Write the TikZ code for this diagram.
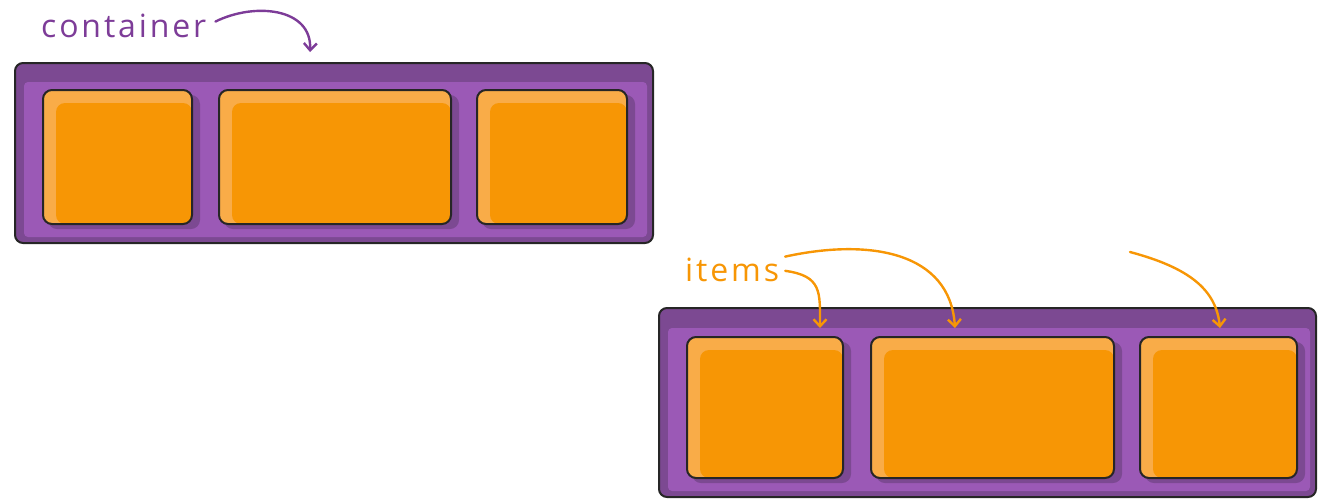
\documentclass[tikz,border=0pt]{standalone}
\usepackage{fontspec}
\setmainfont{Open Sans}
\usetikzlibrary{arrows.meta}
\definecolor{boxdark}{RGB}{124,73,146}
\definecolor{boxlight}{RGB}{155,89,182}
\definecolor{itemmain}{RGB}{247,150,5}
\definecolor{itemhigh}{RGB}{249,172,72}
\definecolor{lblpurple}{RGB}{125,60,152}
\tikzset{
  frame/.style={fill=boxdark, draw=black!85, line width=2pt, rounded corners=8pt},
  frameinner/.style={fill=boxlight, rounded corners=4pt},
  item/.style={fill=itemhigh, draw=black!85, line width=2pt, rounded corners=9pt,
    inner sep=0pt, minimum height=#1,
    path picture={\fill[itemmain, rounded corners=9pt]
      ([shift={(13pt,-13pt)}]path picture bounding box.north west) rectangle
      (path picture bounding box.south east);}},
  itemshadow/.style={fill=boxdark, rounded corners=9pt},
  lbl/.style={inner sep=0pt, font=\fontsize{32}{38}\selectfont\addfontfeature{LetterSpace=9}},
  tipline/.style={line width=2.4pt, line cap=round,
    -{Straight Barb[length=7pt,width=13pt,line width=2.4pt]}}
}
\begin{document}
\begin{tikzpicture}[x=1pt, y=-1pt]
\useasboundingbox (0,0) rectangle (1318,499);
% top container
\draw[frame] (15,63) rectangle (653,243);
\fill[frameinner] (24,82) rectangle (647,237);
% shadows behind the items
\begin{scope}[itemshadow]
  \fill (48,95) rectangle ++(152,134);
  \fill (224,95) rectangle ++(235,134);
  \fill (482,95) rectangle ++(153,134);
\end{scope}
\node[item=134pt, minimum width=149pt] (topa) at (117.5,157) {};
\node[item=134pt, minimum width=232pt] (topb) at (335,157) {};
\node[item=134pt, minimum width=150pt] (topc) at (552,157) {};
% bottom container
\draw[frame] (659,308) rectangle (1316,497);
\fill[frameinner] (668,328) rectangle (1310,491);
\begin{scope}[itemshadow]
  \fill (692,342) rectangle ++(159,141);
  \fill (876,342) rectangle ++(246,141);
  \fill (1145,342) rectangle ++(160,141);
\end{scope}
\node[item=141pt, minimum width=156pt] (bota) at (765,407.5) {};
\node[item=141pt, minimum width=243pt] (botb) at (992.5,407.5) {};
\node[item=141pt, minimum width=157pt] (botc) at (1218.5,407.5) {};
% labels and arrows
\node[lbl, text=lblpurple, anchor=west] (lblcontainer) at (41,26) {container};
\coordinate (ctip) at (310,52);
\draw[tipline, draw=lblpurple, shorten <=10pt] (lblcontainer.east)
  .. controls (255,2) and (312,8) .. (ctip);
\node[lbl, text=itemmain, anchor=west] (lblitems) at (685,270) {items};
\coordinate (tipa) at (820,328);
\coordinate (tipb) at (955,328);
\coordinate (tipc) at (1220,328);
\coordinate (freec) at (1130,252);
\draw[tipline, draw=itemmain, shorten <=6pt] (lblitems.east)
  .. controls (822,276) and (820,292) .. (tipa);
\draw[tipline, draw=itemmain, shorten <=6pt] (lblitems.north east)
  .. controls (870,238) and (950,252) .. (tipb);
\draw[tipline, draw=itemmain] (freec)
  .. controls (1190,268) and (1216,290) .. (tipc);
\end{tikzpicture}
\end{document}
